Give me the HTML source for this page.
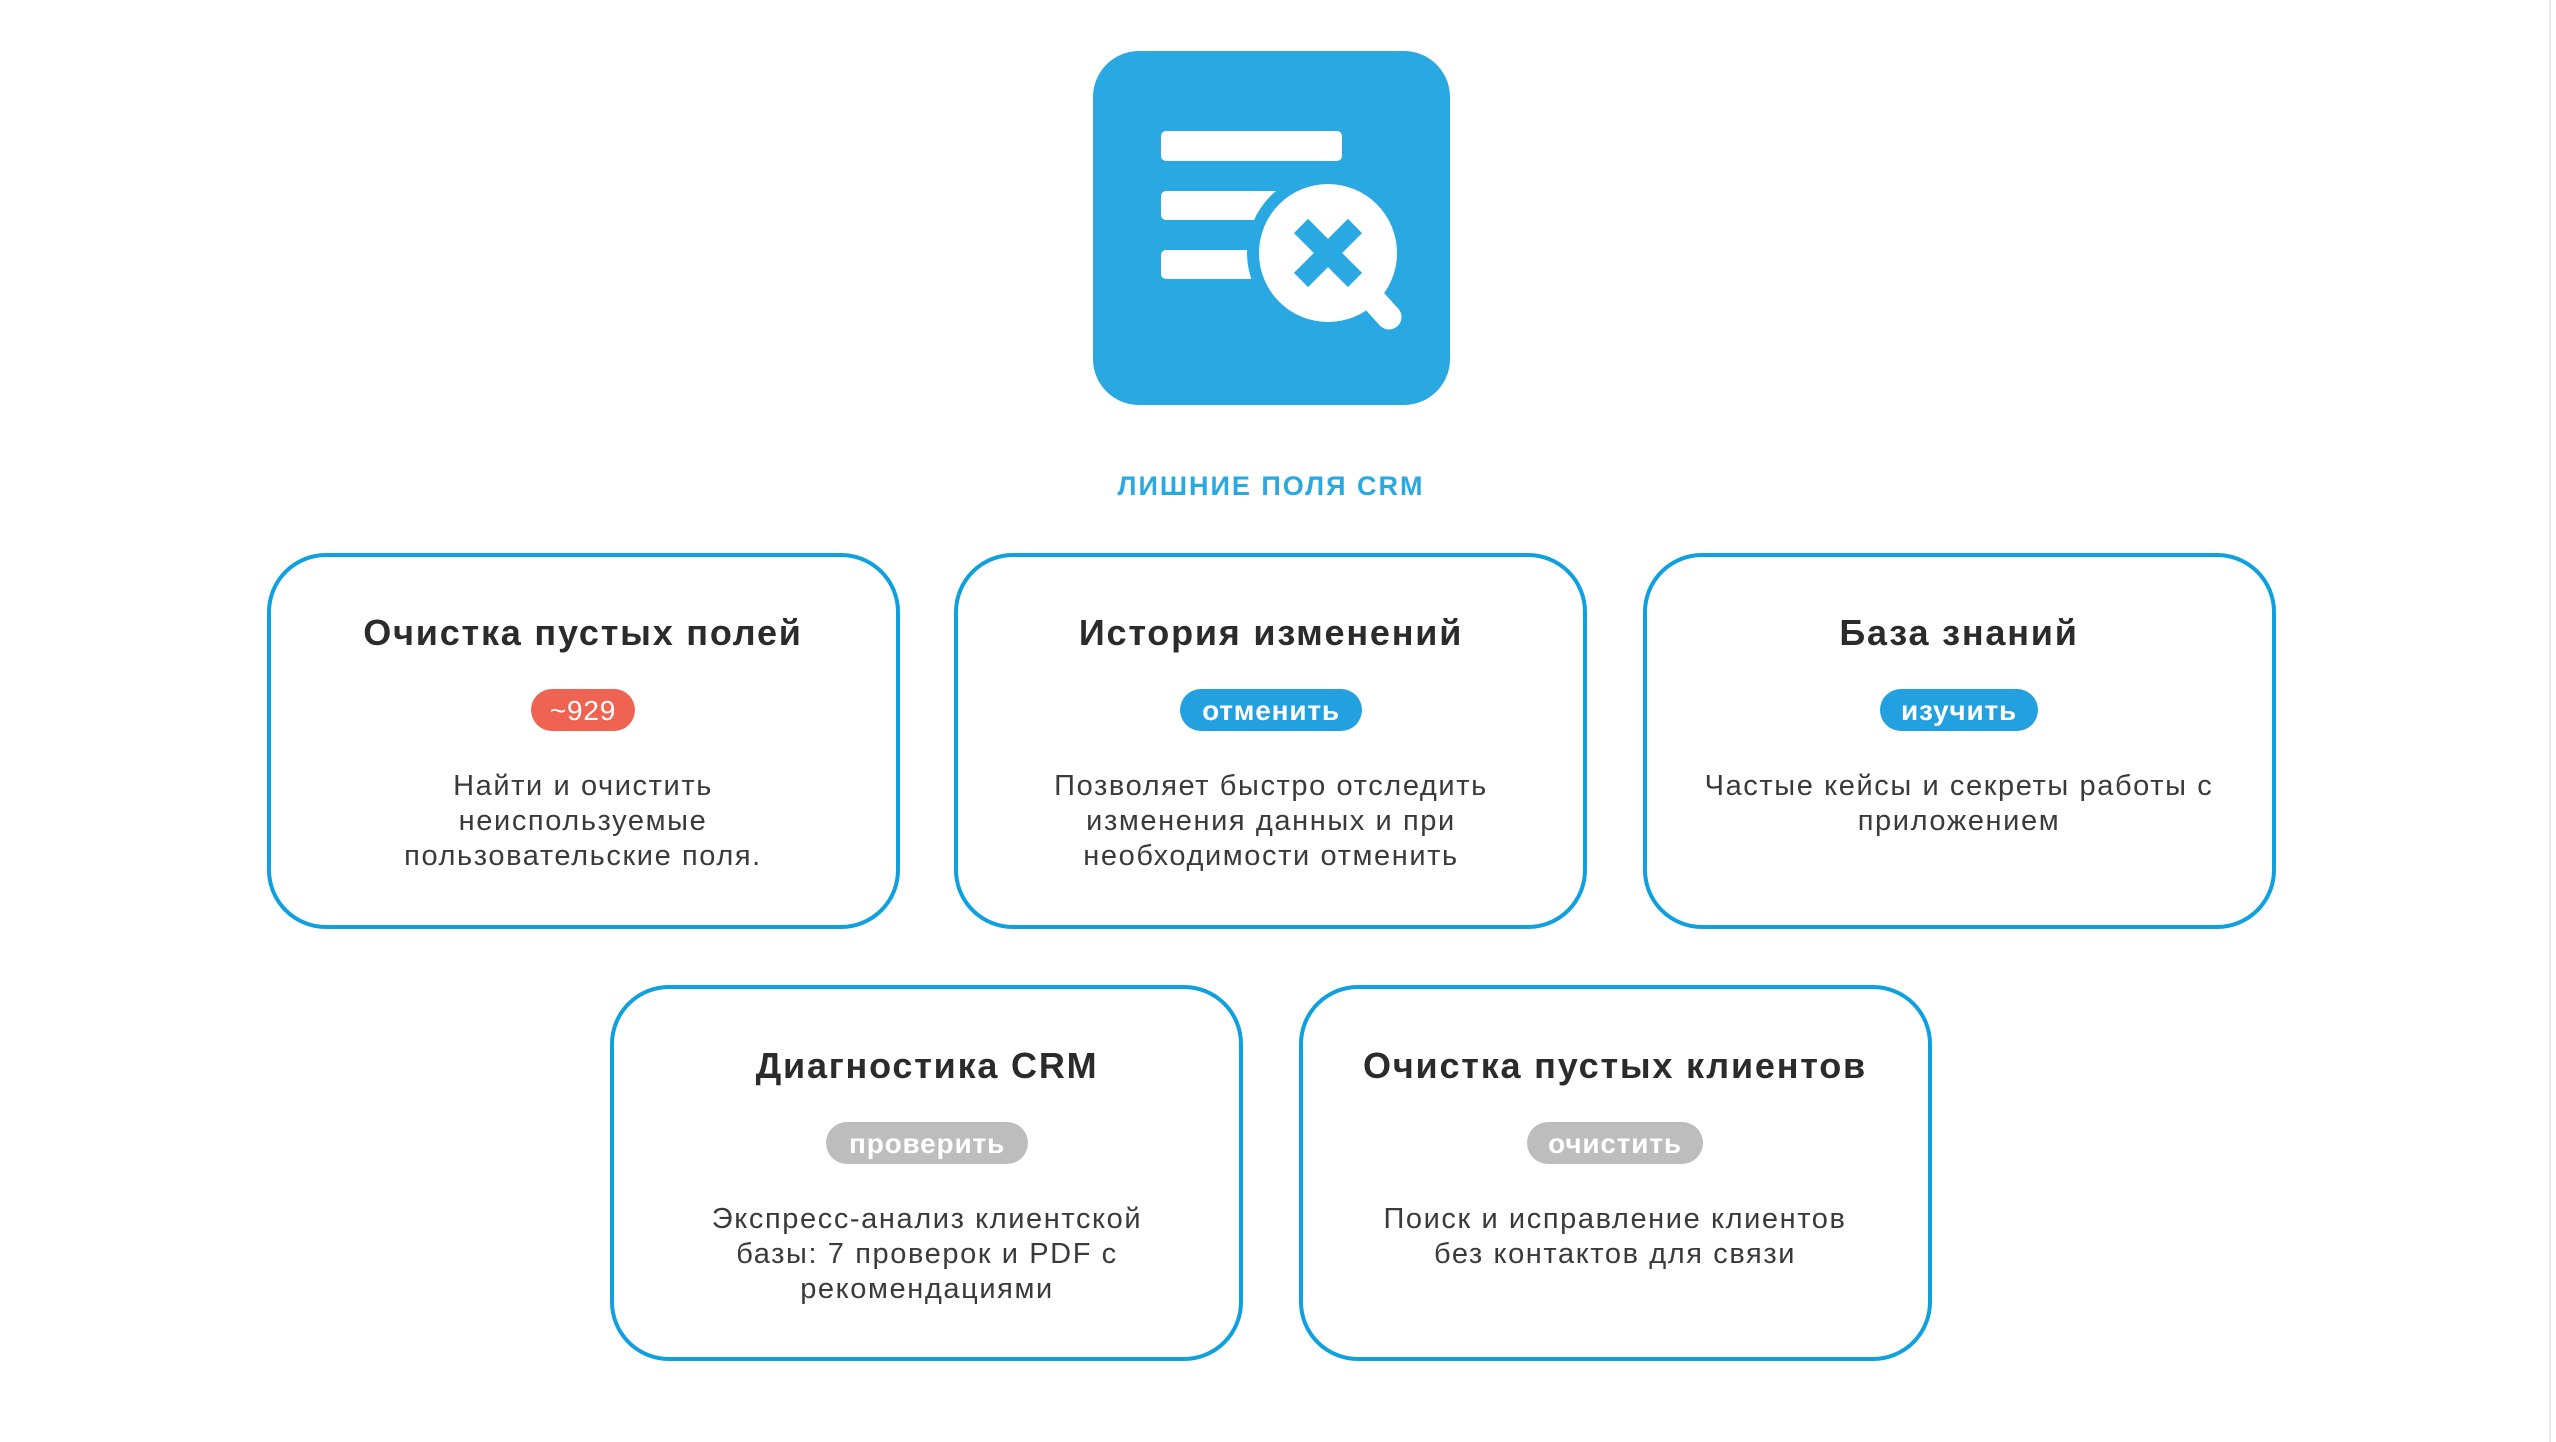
<!DOCTYPE html>
<html><head><meta charset="utf-8"><style>
html,body{margin:0;padding:0;background:#fff;}
svg{display:block}
text{font-family:"Liberation Sans",sans-serif;}
.t{font-size:36px;font-weight:bold;fill:#2b2b2b;text-anchor:middle;letter-spacing:1.8px}
.d{font-size:29px;fill:#3a3a3a;text-anchor:middle;letter-spacing:1.6px}
.b{font-size:28px;font-weight:bold;fill:#fff;text-anchor:middle;letter-spacing:0.8px}
.c{fill:#fff;stroke:#0fa0e0;stroke-width:4}
</style></head><body>
<svg width="2556" height="1442" viewBox="0 0 2556 1442" xmlns="http://www.w3.org/2000/svg">
<rect x="2549" y="0" width="2" height="1442" fill="#ececec"/>
<!-- icon -->
<rect x="1093" y="51" width="357" height="354" rx="46" fill="#29a8e1"/>
<rect x="1161" y="131" width="181" height="30" rx="5" fill="#fff"/>
<rect x="1161" y="191" width="120" height="29" rx="5" fill="#fff"/>
<rect x="1161" y="250" width="110" height="29" rx="5" fill="#fff"/>
<circle cx="1328" cy="253" r="81" fill="#29a8e1"/>
<line x1="1360" y1="285" x2="1389" y2="317" stroke="#fff" stroke-width="25" stroke-linecap="round"/>
<circle cx="1328" cy="253" r="69" fill="#fff"/>
<g stroke="#29a8e1" stroke-width="20">
<line x1="1301" y1="226" x2="1355" y2="280"/><line x1="1355" y1="226" x2="1301" y2="280"/>
</g>
<text x="1271" y="495" style="font-size:27px;font-weight:bold;fill:#29a8e1;text-anchor:middle;letter-spacing:2px">ЛИШНИЕ ПОЛЯ CRM</text>

<!-- card 1 -->
<rect class="c" x="269" y="555" width="629" height="372" rx="57"/>
<text class="t" x="583" y="645">Очистка пустых полей</text>
<rect x="531" y="689" width="104" height="42" rx="21" fill="#ee6352"/>
<text class="b" x="583" y="720" style="font-weight:normal">~929</text>
<text class="d" x="583" y="795">Найти и очистить</text>
<text class="d" x="583" y="830">неиспользуемые</text>
<text class="d" x="583" y="865">пользовательские поля.</text>

<!-- card 2 -->
<rect class="c" x="956" y="555" width="629" height="372" rx="57"/>
<text class="t" x="1271" y="645">История изменений</text>
<rect x="1180" y="689" width="182" height="42" rx="21" fill="#22a0e0"/>
<text class="b" x="1271" y="720">отменить</text>
<text class="d" x="1271" y="795">Позволяет быстро отследить</text>
<text class="d" x="1271" y="830">изменения данных и при</text>
<text class="d" x="1271" y="865">необходимости отменить</text>

<!-- card 3 -->
<rect class="c" x="1645" y="555" width="629" height="372" rx="57"/>
<text class="t" x="1959" y="645">База знаний</text>
<rect x="1880" y="689" width="158" height="42" rx="21" fill="#22a0e0"/>
<text class="b" x="1959" y="720">изучить</text>
<text class="d" x="1959" y="795">Частые кейсы и секреты работы с</text>
<text class="d" x="1959" y="830">приложением</text>

<!-- card 4 -->
<rect class="c" x="612" y="987" width="629" height="372" rx="57"/>
<text class="t" x="927" y="1078">Диагностика CRM</text>
<rect x="826" y="1122" width="202" height="42" rx="21" fill="#bdbdbd"/>
<text class="b" x="927" y="1153">проверить</text>
<text class="d" x="927" y="1228">Экспресс-анализ клиентской</text>
<text class="d" x="927" y="1263">базы: 7 проверок и PDF с</text>
<text class="d" x="927" y="1298">рекомендациями</text>

<!-- card 5 -->
<rect class="c" x="1301" y="987" width="629" height="372" rx="57"/>
<text class="t" x="1615" y="1078">Очистка пустых клиентов</text>
<rect x="1527" y="1122" width="176" height="42" rx="21" fill="#bdbdbd"/>
<text class="b" x="1615" y="1153">очистить</text>
<text class="d" x="1615" y="1228">Поиск и исправление клиентов</text>
<text class="d" x="1615" y="1263">без контактов для связи</text>
</svg>
</body></html>
